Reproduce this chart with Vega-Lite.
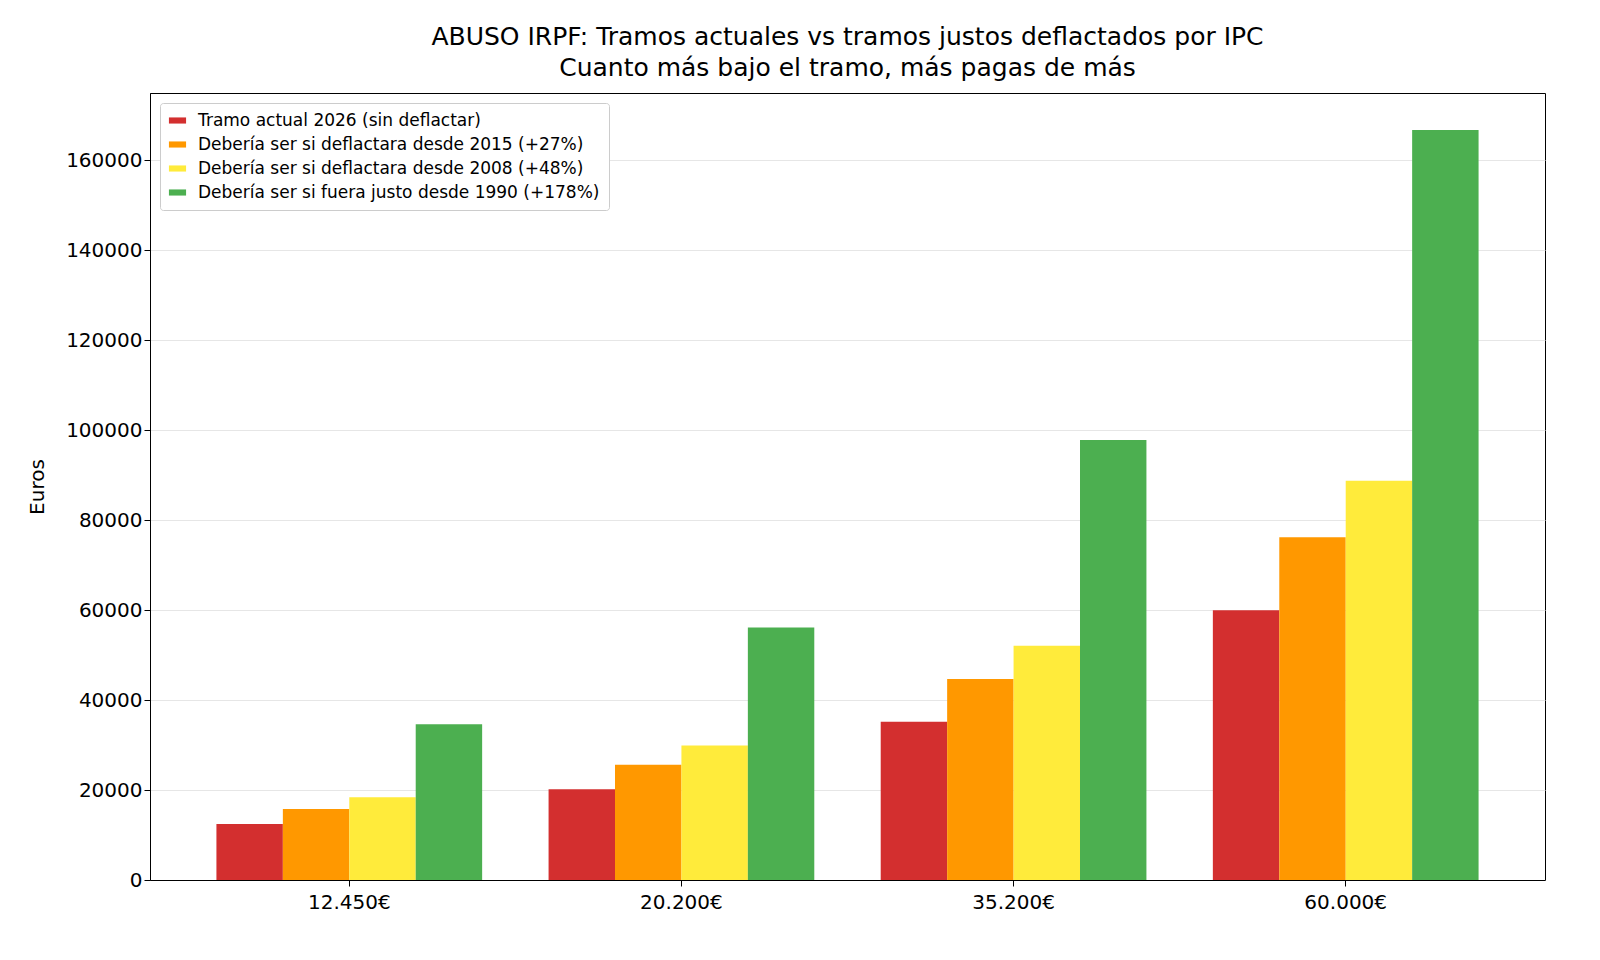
{
"$schema":"https://vega.github.io/schema/vega-lite/v6.json",
"autosize":"none","width":1395,"height":787,
"padding":{"left":150,"top":93,"right":55,"bottom":80},
"background":"white",
"title":{"text":["ABUSO IRPF: Tramos actuales vs tramos justos deflactados por IPC","Cuanto más bajo el tramo, más pagas de más"],"font":"DejaVu Sans","fontSize":25,"fontWeight":"normal","color":"black","offset":12,"lineHeight":31},
"data":{"values":[
{"t":"12.450€","s":"Tramo actual 2026 (sin deflactar)","o":0,"v":12450},
{"t":"12.450€","s":"Debería ser si deflactara desde 2015 (+27%)","o":1,"v":15812},
{"t":"12.450€","s":"Debería ser si deflactara desde 2008 (+48%)","o":2,"v":18426},
{"t":"12.450€","s":"Debería ser si fuera justo desde 1990 (+178%)","o":3,"v":34611},
{"t":"20.200€","s":"Tramo actual 2026 (sin deflactar)","o":0,"v":20200},
{"t":"20.200€","s":"Debería ser si deflactara desde 2015 (+27%)","o":1,"v":25654},
{"t":"20.200€","s":"Debería ser si deflactara desde 2008 (+48%)","o":2,"v":29896},
{"t":"20.200€","s":"Debería ser si fuera justo desde 1990 (+178%)","o":3,"v":56156},
{"t":"35.200€","s":"Tramo actual 2026 (sin deflactar)","o":0,"v":35200},
{"t":"35.200€","s":"Debería ser si deflactara desde 2015 (+27%)","o":1,"v":44704},
{"t":"35.200€","s":"Debería ser si deflactara desde 2008 (+48%)","o":2,"v":52096},
{"t":"35.200€","s":"Debería ser si fuera justo desde 1990 (+178%)","o":3,"v":97856},
{"t":"60.000€","s":"Tramo actual 2026 (sin deflactar)","o":0,"v":60000},
{"t":"60.000€","s":"Debería ser si deflactara desde 2015 (+27%)","o":1,"v":76200},
{"t":"60.000€","s":"Debería ser si deflactara desde 2008 (+48%)","o":2,"v":88800},
{"t":"60.000€","s":"Debería ser si fuera justo desde 1990 (+178%)","o":3,"v":166800}
]},
"mark":{"type":"bar"},
"encoding":{
"x":{"field":"t","type":"nominal","sort":null,"scale":{"paddingInner":0.2,"paddingOuter":0.2},"axis":{"title":null,"labelAngle":0,"labelFont":"DejaVu Sans","labelFontSize":20,"labelColor":"black","domainColor":"black","tickColor":"black","labelPadding":6,"tickSize":6}},
"xOffset":{"field":"o","type":"ordinal"},
"y":{"field":"v","type":"quantitative","scale":{"domain":[0,175000],"nice":false},"axis":{"title":"Euros","titleFont":"DejaVu Sans","titleFontSize":20,"titleFontWeight":"normal","titleColor":"black","labelFont":"DejaVu Sans","labelFontSize":20,"labelColor":"black","format":"d","values":[0,20000,40000,60000,80000,100000,120000,140000,160000],"gridColor":"#e6e6e6","domainColor":"black","tickColor":"black","titlePadding":18,"tickSize":6}},
"color":{"field":"s","type":"nominal","sort":null,"scale":{"domain":["Tramo actual 2026 (sin deflactar)","Debería ser si deflactara desde 2015 (+27%)","Debería ser si deflactara desde 2008 (+48%)","Debería ser si fuera justo desde 1990 (+178%)"],"range":["#d32f2f","#ff9800","#ffeb3b","#4caf50"]},
"legend":{"title":null,"orient":"top-left","offset":10,"fillColor":"white","strokeColor":"#cccccc","cornerRadius":3,"padding":9,"labelFont":"DejaVu Sans","labelFontSize":17,"labelColor":"black","symbolType":"M-1.4,-0.5H1.4V0.5H-1.4Z","symbolSize":150,"symbolStrokeWidth":0,"labelOffset":12,"rowPadding":6,"labelLimit":600}}
},
"config":{"view":{"stroke":"black"}}
}
